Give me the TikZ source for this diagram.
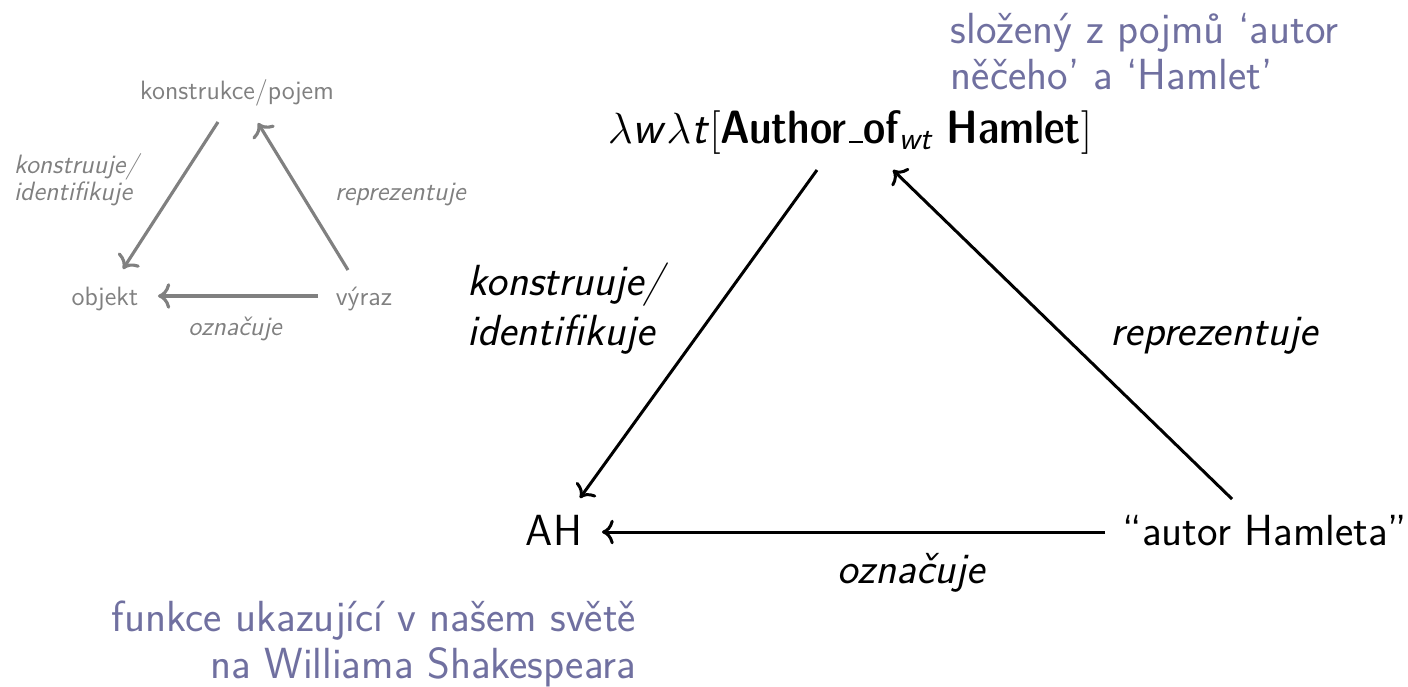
\documentclass[tikz,border=0pt]{standalone}
\usepackage{fontspec}
\usepackage{amstext}
\renewcommand{\familydefault}{\sfdefault}
\usetikzlibrary{positioning,arrows.meta}

\definecolor{struct}{RGB}{112,112,160}
\definecolor{dimgray}{RGB}{128,128,128}

\newcommand{\dcb}[1]{{\fontseries{sbc}\selectfont #1}}
\newcommand{\usc}{\leavevmode\kern.06em\vbox{\hrule height 1.2pt width .3em}}

\tikzset{
  big/.style={font=\fontsize{24.8}{28.4}\selectfont,inner sep=2pt},
  formula/.style={big,font=\fontsize{26.6}{30}\selectfont},
  blabel/.style={big,font=\fontsize{24.8}{28.4}\selectfont\itshape},
  note/.style={inner sep=2pt,text=struct,font=\fontsize{24.8}{26.5}\selectfont},
  small/.style={font=\fontsize{15.1}{15.3}\selectfont,inner sep=1pt,text=dimgray},
  slabel/.style={small,font=\fontsize{15.1}{15.3}\selectfont\itshape},
  arr/.style={-{To[scale=1.25]},line width=1.7pt},
  sarr/.style={-{To[scale=1.25]},line width=1.8pt,draw=dimgray},
}

\begin{document}
\begin{tikzpicture}[x=0.02cm,y=-0.02cm]
\useasboundingbox (0,0) rectangle (1408,686);

% small triangle
\node[small,anchor=base](spojem) at (237,99) {konstrukce/pojem};
\node[small,anchor=base](sobjekt) at (105,305) {objekt};
\node[small,anchor=base](svyraz) at (364,305) {výraz};

\node[slabel,anchor=base west,align=left](skonstr) at (12,200) {konstruuje/\\identifikuje};
\node[slabel,anchor=base west](srepr) at (333,200) {reprezentuje};
\node[slabel,anchor=base](soznac) at (235,335) {označuje};

\draw[sarr] ([xshift=-0.38cm,yshift=-0.46cm]spojem.base) -- ([xshift=0.36cm,yshift=0.72cm]sobjekt.base);
\draw[sarr] ([xshift=-0.32cm,yshift=0.70cm]svyraz.base) -- ([xshift=0.42cm,yshift=-0.48cm]spojem.base);
\draw[sarr] ([xshift=-0.92cm,yshift=0.18cm]svyraz.base) -- ([xshift=1.06cm,yshift=0.18cm]sobjekt.base);

% big triangle
\node[formula,anchor=base](pojem) at (850,143)
    {$\lambda$\textit{w}$\lambda$\textit{t}$[$\dcb{Author\usc of}$_{\textit{wt}}$ \dcb{Hamlet}$]$};
\node[big,anchor=base](ah) at (554,545) {AH};
\node[big,anchor=base](vyraz) at (1265,545) {“autor Hamleta”};

\node[blabel,anchor=base west,align=left](konstr) at (464,345) {konstruuje/\\identifikuje};
\node[blabel,anchor=base west](repr) at (1107,345) {reprezentuje};
\node[blabel,anchor=base](oznac) at (911,583) {označuje};

\draw[arr] ([xshift=-0.66cm,yshift=-0.54cm]pojem.base) -- ([xshift=0.52cm,yshift=0.94cm]ah.base);
\draw[arr] ([xshift=-0.66cm,yshift=0.92cm]vyraz.base) -- ([xshift=0.86cm,yshift=-0.54cm]pojem.base);
\draw[arr] ([xshift=-3.2cm,yshift=0.26cm]vyraz.base) -- ([xshift=0.96cm,yshift=0.26cm]ah.base);

% notes
\node[note,anchor=base west,align=left](slozeny) at (947,90)
    {složený z pojmů ‘autor\\něčeho’ a ‘Hamlet’};
\node[note,anchor=base east,align=right](funkce) at (640,678)
    {funkce ukazující v našem světě\\na Williama Shakespeara};

\end{tikzpicture}
\end{document}
